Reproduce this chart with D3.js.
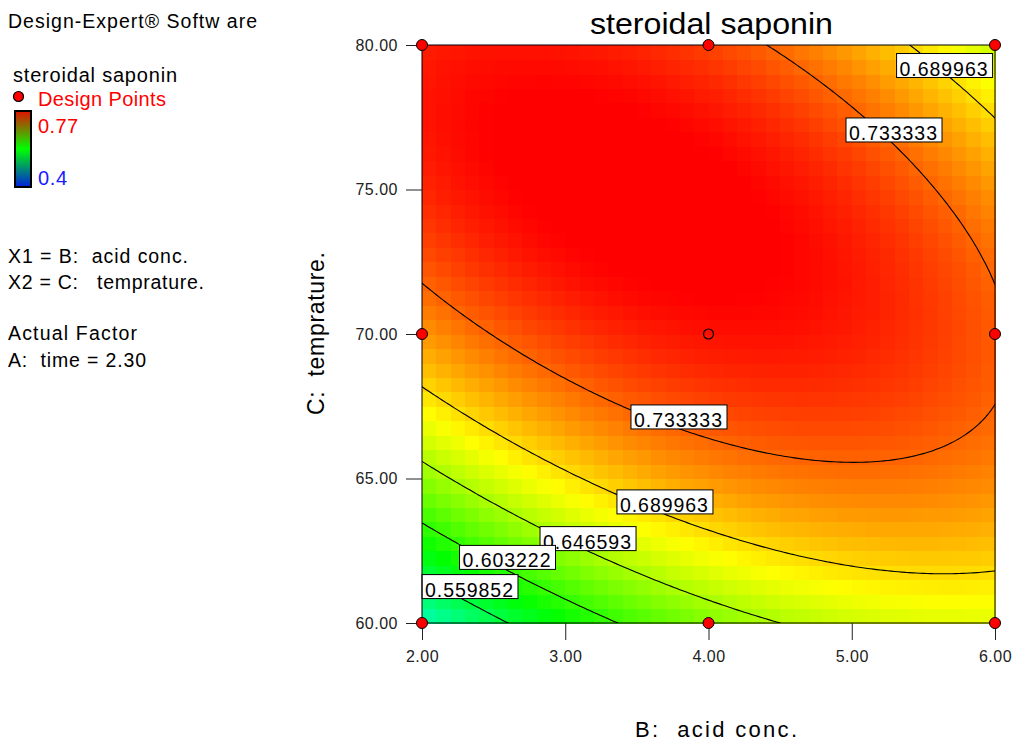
<!DOCTYPE html>
<html>
<head>
<meta charset="utf-8">
<script src="https://cdn.jsdelivr.net/npm/d3@7"></script>
<style>
  body { margin: 0; background: #fff; }
  svg { display: block; font-family: "Liberation Sans", Arial, sans-serif; }
  text { white-space: pre; }
</style>
</head>
<body>
<svg id="chart" width="1013" height="744"></svg>
<script>
// Contour plot of the fitted response (steroidal saponin) over B and C, with A held at 2.30
var rangeB = [2, 6];
var rangeC = [60, 80];
var ticksB = [2, 3, 4, 5, 6];
var ticksC = [60, 65, 70, 75, 80];

// quadratic model, coded units (-1..1): 1, B, C, BC, B^2, C^2
var modelTerms = ["1", "B", "C", "BC", "B^2", "C^2"];
var modelCoefs = [0.764, 0.011, 0.0575, -0.063, -0.0385, -0.076];

var colorLimits = [0.4, 0.77];
var contourLevels = [0.559852, 0.603222, 0.646593, 0.689963, 0.733333];

// contour labels, anchored in data units (B, C)
var labelLevels = [0.689963, 0.733333, 0.733333, 0.689963, 0.646593, 0.603222, 0.559852];
var labelB = [5.648, 5.295, 3.794, 3.696, 3.159, 2.597, 2.335];
var labelC = [79.29, 77.06, 67.13, 64.19, 62.92, 62.27, 61.26];

// design points (factorial + axial), the centre point is drawn hollow
var designB = [2, 4, 6, 2, 6, 2, 4, 6];
var designC = [60, 60, 60, 70, 70, 80, 80, 80];
var centerPoint = [4, 70];

var infoLines = ["X1 = B:  acid conc.", "X2 = C:   temprature.", "", "Actual Factor", "A:  time = 2.30"];

var svg = d3.select("#chart");

var plot = {left: 422, top: 45, right: 995, bottom: 623};
var x = d3.scaleLinear().domain(rangeB).range([plot.left, plot.right]);
var y = d3.scaleLinear().domain(rangeC).range([plot.bottom, plot.top]);

function predict(b, c) {
  var x1 = (b - (rangeB[0] + rangeB[1]) / 2) / ((rangeB[1] - rangeB[0]) / 2);
  var x2 = (c - (rangeC[0] + rangeC[1]) / 2) / ((rangeC[1] - rangeC[0]) / 2);
  var terms = [1, x1, x2, x1 * x2, x1 * x1, x2 * x2];
  return d3.sum(terms, function(t, i) { return t * modelCoefs[i]; });
}

// hue runs blue -> cyan -> green -> yellow -> red over the colour limits
var hue = d3.scaleLinear().domain(colorLimits).range([240, 0]).clamp(true);
function colorOf(v) { return d3.hsl(hue(v), 1, 0.5).toString(); }

// HEAT MAP (coarse cells like the original)
var nCells = 40;
var cellB = d3.scaleLinear().domain([0, nCells]).range(rangeB);
var cellC = d3.scaleLinear().domain([0, nCells]).range(rangeC);
var cells = [];
d3.range(nCells).forEach(function(j) {
  d3.range(nCells).forEach(function(i) {
    cells.push({i: i, j: j, v: predict(cellB(i + 0.5), cellC(j + 0.5))});
  });
});

svg.append("g")
    .attr("shape-rendering", "crispEdges")
  .selectAll("rect")
  .data(cells)
  .enter().append("rect")
    .attr("x", function(d) { return x(cellB(d.i)); })
    .attr("y", function(d) { return y(cellC(d.j + 1)); })
    .attr("width", function(d) { return x(cellB(d.i + 1)) - x(cellB(d.i)) + 0.6; })
    .attr("height", function(d) { return y(cellC(d.j)) - y(cellC(d.j + 1)) + 0.6; })
    .style("fill", function(d) { return colorOf(d.v); });

// CONTOUR LINES
var nx = 161, ny = 161;
var gridB = d3.scaleLinear().domain([0.5, nx - 0.5]).range(rangeB);
var gridC = d3.scaleLinear().domain([0.5, ny - 0.5]).range(rangeC);
var values = new Array(nx * ny);
for (var j = 0; j < ny; j++) {
  for (var i = 0; i < nx; i++) {
    values[j * nx + i] = predict(gridB(i + 0.5), gridC(j + 0.5));
  }
}
var contours = d3.contours().size([nx, ny]).thresholds(contourLevels)(values);
var toScreen = d3.geoTransform({
  point: function(px, py) { this.stream.point(x(gridB(px)), y(gridC(py))); }
});

svg.append("clipPath").attr("id", "plotClip")
  .append("rect")
    .attr("x", plot.left).attr("y", plot.top)
    .attr("width", plot.right - plot.left).attr("height", plot.bottom - plot.top);

svg.append("g")
    .attr("clip-path", "url(#plotClip)")
  .selectAll("path")
  .data(contours)
  .enter().append("path")
    .attr("d", d3.geoPath(toScreen))
    .style("fill", "none")
    .style("stroke", "#000")
    .style("stroke-width", 1.1);

// CONTOUR LABELS
var fmt6 = d3.format(".6f");
var label = svg.append("g").selectAll("g")
  .data(labelLevels)
  .enter().append("g")
    .attr("transform", function(d, i) { return "translate(" + x(labelB[i]) + "," + y(labelC[i]) + ")"; });
label.append("rect")
    .attr("x", -48).attr("y", -12).attr("width", 96).attr("height", 24)
    .style("fill", "#fff").style("stroke", "#000").style("stroke-width", 1);
label.append("text")
    .attr("x", -45).attr("y", 10)
    .attr("textLength", 88).attr("lengthAdjust", "spacing")
    .style("font-size", "19.5px")
    .text(function(d) { return fmt6(d); });

// FRAME
svg.append("rect")
    .attr("x", plot.left).attr("y", plot.top)
    .attr("width", plot.right - plot.left).attr("height", plot.bottom - plot.top)
    .style("fill", "none").style("stroke", "#000").style("stroke-width", 1);

// AXES
var fmt2 = d3.format(".2f");
var yAxis = svg.append("g")
    .attr("transform", "translate(" + plot.left + ",0)")
    .call(d3.axisLeft(y).tickValues(ticksC).tickFormat(fmt2).tickSize(16).tickPadding(8).tickSizeOuter(0));
var xAxis = svg.append("g")
    .attr("transform", "translate(0," + plot.bottom + ")")
    .call(d3.axisBottom(x).tickValues(ticksB).tickFormat(fmt2).tickSize(17).tickPadding(11).tickSizeOuter(0));
[xAxis, yAxis].forEach(function(a) {
  a.select(".domain").remove();
  a.selectAll("text").style("font-size", "16px").style("letter-spacing", "0.5px")
      .style("font-family", "'Liberation Sans', Arial, sans-serif").style("fill", "#222");
  a.selectAll("line").style("stroke", "#222");
});

// DESIGN POINTS
svg.append("g").selectAll("circle")
  .data(designB)
  .enter().append("circle")
    .attr("cx", function(d) { return x(d); })
    .attr("cy", function(d, i) { return y(designC[i]); })
    .attr("r", 5.5)
    .style("fill", "#ff0000").style("stroke", "#000").style("stroke-width", 1);
svg.append("circle")
    .attr("cx", x(centerPoint[0])).attr("cy", y(centerPoint[1]))
    .attr("r", 5)
    .style("fill", "none").style("stroke", "#000").style("stroke-width", 1.2);

// TITLES
svg.append("text")
    .attr("x", 590).attr("y", 34)
    .attr("textLength", 243).attr("lengthAdjust", "spacingAndGlyphs")
    .style("font-size", "30px")
    .text("steroidal saponin");
svg.append("text")
    .attr("x", 635).attr("y", 737)
    .attr("textLength", 162).attr("lengthAdjust", "spacing")
    .style("font-size", "22px")
    .text("B:  acid conc.");
svg.append("text")
    .attr("transform", "translate(324,415) rotate(-90)")
    .attr("textLength", 163).attr("lengthAdjust", "spacing")
    .style("font-size", "23px")
    .text("C:  temprature.");

// LEFT PANEL
svg.append("text").attr("x", 8).attr("y", 28)
    .attr("textLength", 249).attr("lengthAdjust", "spacing")
    .style("font-size", "19.5px").text("Design-Expert\u00ae Softw are");
svg.append("text").attr("x", 13).attr("y", 82)
    .attr("textLength", 164).attr("lengthAdjust", "spacing")
    .style("font-size", "20px").text("steroidal saponin");
svg.append("circle").attr("cx", 18.5).attr("cy", 96.5).attr("r", 5)
    .style("fill", "#ff0000").style("stroke", "#000").style("stroke-width", 1.2);
svg.append("text").attr("x", 38).attr("y", 106)
    .attr("textLength", 128).attr("lengthAdjust", "spacing")
    .style("font-size", "20px").style("fill", "#ff0000").text("Design Points");

var grad = svg.append("defs").append("linearGradient")
    .attr("id", "legendGrad").attr("x1", 0).attr("y1", 0).attr("x2", 0).attr("y2", 1);
grad.append("stop").attr("offset", "0%").attr("stop-color", "#e01000");
grad.append("stop").attr("offset", "50%").attr("stop-color", "#00ff00");
grad.append("stop").attr("offset", "100%").attr("stop-color", "#0020e0");
svg.append("rect").attr("x", 15).attr("y", 111).attr("width", 16).attr("height", 76)
    .style("fill", "url(#legendGrad)").style("stroke", "#000").style("stroke-width", 2);
svg.append("text").attr("x", 38).attr("y", 133)
    .attr("textLength", 40).attr("lengthAdjust", "spacing")
    .style("font-size", "20px").style("fill", "#ff0000").text(String(colorLimits[1]));
svg.append("text").attr("x", 38).attr("y", 185)
    .attr("textLength", 29).attr("lengthAdjust", "spacing")
    .style("font-size", "20px").style("fill", "#1a1aff").text(String(colorLimits[0]));

var infoY = [263, 289, 315, 340, 367];
var infoW = [180, 196, 0, 129, 138];
infoLines.forEach(function(t, i) {
  if (!t) return;
  svg.append("text").attr("x", 8).attr("y", infoY[i])
      .attr("textLength", infoW[i]).attr("lengthAdjust", "spacing")
      .style("font-size", "19.5px").text(t);
});
</script>
</body>
</html>
